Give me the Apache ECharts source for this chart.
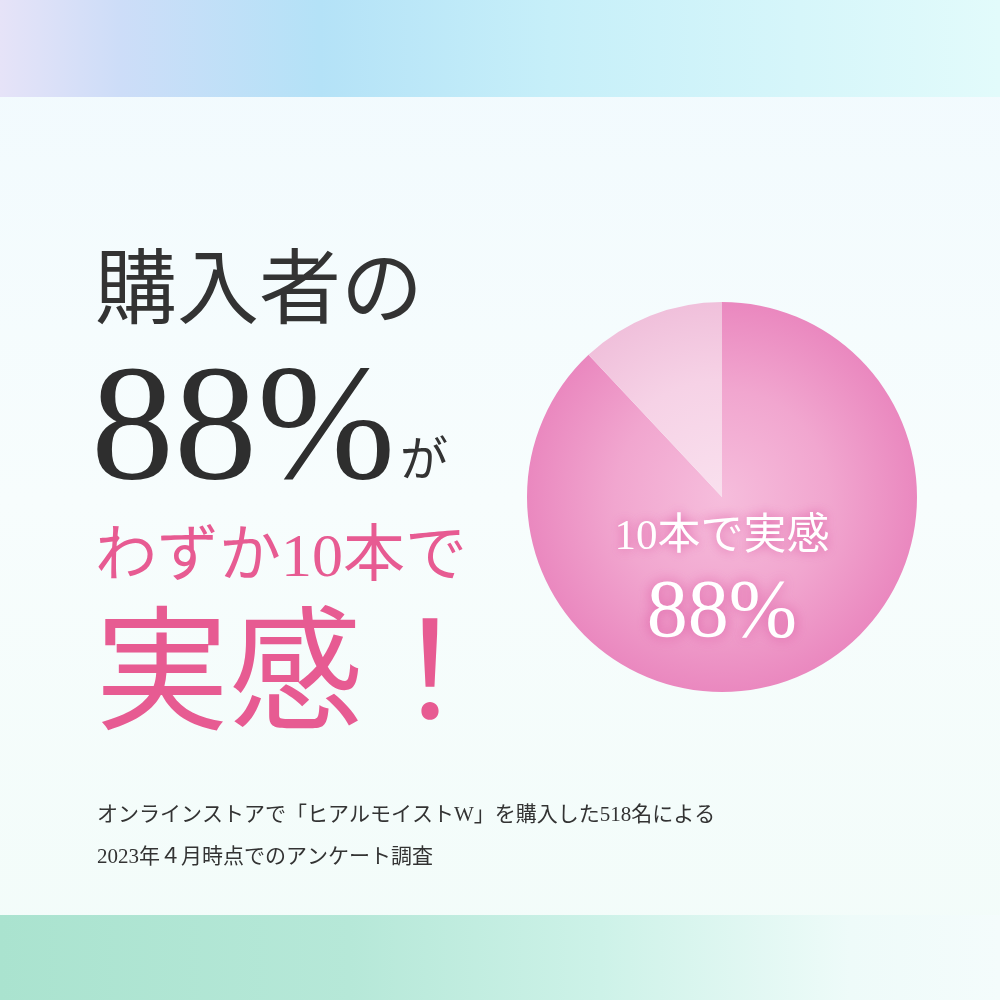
<!DOCTYPE html>
<html><head><meta charset="utf-8">
<script src="https://cdn.jsdelivr.net/npm/echarts@6/dist/echarts.min.js"></script>
<style>html,body{margin:0;padding:0;background:#f6fcfd}#c{width:1000px;height:1000px}</style>
</head><body><div id="c"></div>
<script>
// ---- data ----
const sliceNames = ['10本で実感', 'その他'];
const sliceValues = [88, 12];
const headlineLines = ['購入者の', 'が', 'わずか10本で', '実感！'];
const noteLines = ['オンラインストアで「ヒアルモイストW」を購入した518名による', '2023年４月時点でのアンケート調査'];

const FONT = "'Liberation Serif','Noto Sans CJK JP',serif";
const pctText = sliceValues[0] + '%';

const chart = echarts.init(document.getElementById('c'), null, {renderer: 'canvas'});
const cx = 722, cy = 497, R = 195;

chart.setOption({
  backgroundColor: '#f6fcfd',
  animation: false,
  graphic: [
    // background bands
    {type: 'rect', z: -10, shape: {x: 0, y: 0, width: 1000, height: 1000},
      style: {fill: {type: 'linear', x: 0, y: 0, x2: 0, y2: 1, colorStops: [
        {offset: 0, color: '#f1fafe'}, {offset: 0.5, color: '#f7fdfd'}, {offset: 1, color: '#f2fcf9'}]}}},
    {type: 'rect', z: -9, shape: {x: 0, y: 0, width: 1000, height: 97},
      style: {fill: {type: 'linear', x: 0, y: 0, x2: 1, y2: 0, colorStops: [
        {offset: 0, color: '#e6e3f8'}, {offset: 0.12, color: '#cdddf8'}, {offset: 0.32, color: '#b4e2f7'},
        {offset: 0.55, color: '#c6eff9'}, {offset: 0.8, color: '#d6f6fa'}, {offset: 1, color: '#e2fbfb'}]}}},
    {type: 'rect', z: -9, shape: {x: 0, y: 915, width: 1000, height: 85},
      style: {fill: {type: 'linear', x: 0, y: 0, x2: 1, y2: 0, colorStops: [
        {offset: 0, color: '#aae3cf'}, {offset: 0.35, color: '#b6e8d8'}, {offset: 0.6, color: '#cdf2e8'},
        {offset: 0.85, color: '#eefbf9'}, {offset: 1, color: '#f4fcfc'}]}}},
    // headline
    {type: 'text', z: 10, style: {text: headlineLines[0], x: 95, y: 295, font: "400 82px " + FONT,
      fill: '#333333', textAlign: 'left', textVerticalAlign: 'middle'}},
    {type: 'text', z: 10, style: {text: pctText, x: 91, y: 434, font: "400 166px " + FONT,
      fill: '#2e2e2e', textAlign: 'left', textVerticalAlign: 'middle'}},
    {type: 'text', z: 10, style: {text: headlineLines[1], x: 400, y: 463, font: "400 48px " + FONT,
      fill: '#333333', textAlign: 'left', textVerticalAlign: 'middle'}},
    {type: 'text', z: 10, style: {text: headlineLines[2], x: 95, y: 560, font: "400 62px " + FONT,
      fill: '#e75b92', textAlign: 'left', textVerticalAlign: 'middle'}},
    {type: 'text', z: 10, style: {text: headlineLines[3], x: 95, y: 684, font: "400 134px " + FONT,
      fill: '#e75b92', textAlign: 'left', textVerticalAlign: 'middle'}},
    // notes
    {type: 'text', z: 10, style: {text: noteLines[0], x: 97, y: 815, font: "400 21px " + FONT,
      fill: '#333333', textAlign: 'left', textVerticalAlign: 'middle'}},
    {type: 'text', z: 10, style: {text: noteLines[1], x: 97, y: 857, font: "400 21px " + FONT,
      fill: '#333333', textAlign: 'left', textVerticalAlign: 'middle'}},
    // pie labels
    {type: 'text', z: 20, style: {text: sliceNames[0], x: cx, y: 538, font: "400 43px " + FONT,
      fill: '#ffffff', textAlign: 'center', textVerticalAlign: 'middle',
      textShadowColor: 'rgba(214,70,150,0.8)', textShadowBlur: 12}},
    {type: 'text', z: 20, style: {text: pctText, x: cx, y: 614, font: "400 82px " + FONT,
      fill: '#ffffff', textAlign: 'center', textVerticalAlign: 'middle',
      textShadowColor: 'rgba(214,70,150,0.8)', textShadowBlur: 14}}
  ],
  series: [{
    type: 'pie',
    center: [cx, cy],
    radius: [0, R],
    startAngle: 90,
    clockwise: true,
    silent: true,
    label: {show: false},
    labelLine: {show: false},
    itemStyle: {borderWidth: 0},
    data: [
      {name: sliceNames[0], value: sliceValues[0], itemStyle: {color: {
        type: 'radial', x: cx, y: cy, r: R, global: true, colorStops: [
          {offset: 0, color: '#f6bddc'}, {offset: 0.55, color: '#f1a6cf'}, {offset: 1, color: '#ea88bf'}]}}},
      {name: sliceNames[1], value: sliceValues[1], itemStyle: {color: {
        type: 'radial', x: cx, y: cy, r: R, global: true, colorStops: [
          {offset: 0, color: '#f9e0ee'}, {offset: 0.6, color: '#f6d2e6'}, {offset: 1, color: '#f0c0db'}]}}}
    ]
  }]
});
</script></body></html>
